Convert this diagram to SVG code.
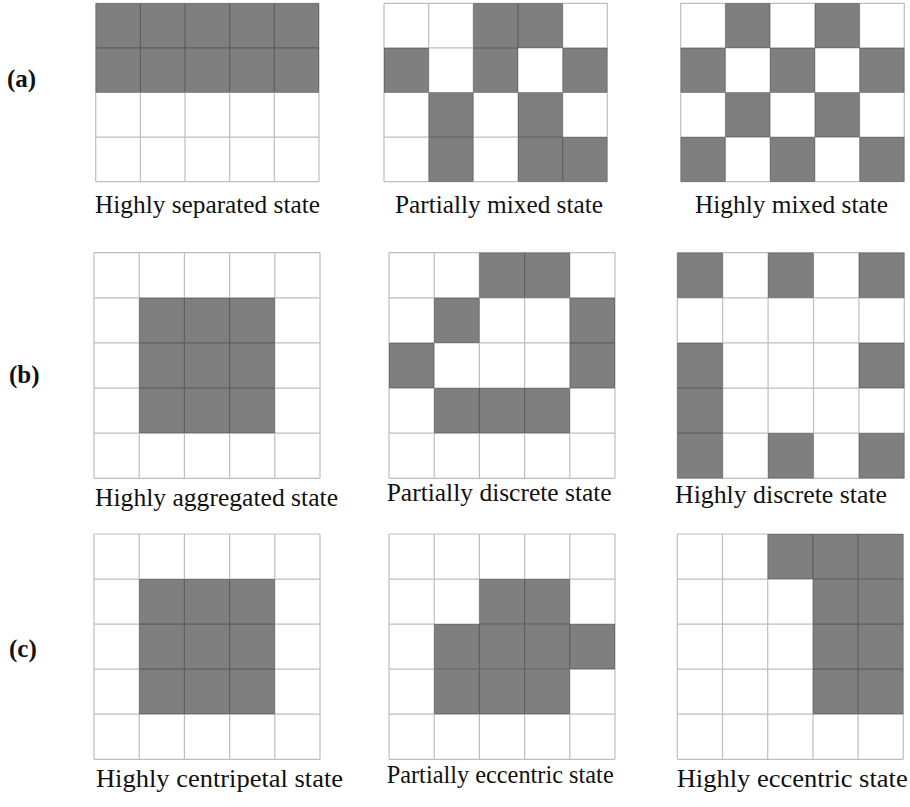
<svg xmlns="http://www.w3.org/2000/svg" width="910" height="807" viewBox="0 0 910 807">
<style>
.bg{fill:#ffffff}
.g{fill:#7f7f7f}
.grid{fill:none;stroke:#000000;stroke-opacity:0.26;stroke-width:1.2}
.cap{font-family:"Liberation Serif","Times New Roman",serif;font-size:25px;fill:#111111;text-anchor:start}
.lab{font-family:"Liberation Serif","Times New Roman",serif;font-size:25px;font-weight:bold;fill:#111111}
</style>
<rect class="bg" x="0" y="0" width="910" height="807"/>

<text class="lab" x="7" y="87">(a)</text>
<text class="lab" x="9" y="383">(b)</text>
<text class="lab" x="9" y="657">(c)</text>

<g id="a1">
<rect class="g" x="95.7" y="3.3" width="223.3" height="89.2"/>
<path class="grid" d="M95.7 3.3H319M95.7 47.9H319M95.7 92.5H319M95.7 137.1H319M95.7 181.7H319M95.7 3.3V181.7M140.4 3.3V181.7M185 3.3V181.7M229.7 3.3V181.7M274.3 3.3V181.7M319 3.3V181.7"/>
<text class="cap" x="95" y="213" textLength="225" lengthAdjust="spacingAndGlyphs">Highly separated state</text>
</g>

<g id="a2">
<rect class="g" x="473.3" y="3.3" width="89.4" height="44.6"/>
<rect class="g" x="384" y="47.9" width="44.7" height="44.6"/>
<rect class="g" x="473.3" y="47.9" width="44.7" height="44.6"/>
<rect class="g" x="562.7" y="47.9" width="44.6" height="44.6"/>
<rect class="g" x="428.7" y="92.5" width="44.6" height="44.6"/>
<rect class="g" x="518" y="92.5" width="44.7" height="44.6"/>
<rect class="g" x="428.7" y="137.1" width="44.6" height="44.6"/>
<rect class="g" x="518" y="137.1" width="89.3" height="44.6"/>
<path class="grid" d="M384 3.3H607.3M384 47.9H607.3M384 92.5H607.3M384 137.1H607.3M384 181.7H607.3M384 3.3V181.7M428.7 3.3V181.7M473.3 3.3V181.7M518 3.3V181.7M562.7 3.3V181.7M607.3 3.3V181.7"/>
<text class="cap" x="395" y="213" textLength="208" lengthAdjust="spacingAndGlyphs">Partially mixed state</text>
</g>

<g id="a3">
<rect class="g" x="725.4" y="3.3" width="44.7" height="44.6"/>
<rect class="g" x="814.9" y="3.3" width="44.7" height="44.6"/>
<rect class="g" x="680.7" y="47.9" width="44.7" height="44.6"/>
<rect class="g" x="770.1" y="47.9" width="44.8" height="44.6"/>
<rect class="g" x="859.6" y="47.9" width="44.7" height="44.6"/>
<rect class="g" x="725.4" y="92.5" width="44.7" height="44.6"/>
<rect class="g" x="814.9" y="92.5" width="44.7" height="44.6"/>
<rect class="g" x="680.7" y="137.1" width="44.7" height="44.6"/>
<rect class="g" x="770.1" y="137.1" width="44.8" height="44.6"/>
<rect class="g" x="859.6" y="137.1" width="44.7" height="44.6"/>
<path class="grid" d="M680.7 3.3H904.3M680.7 47.9H904.3M680.7 92.5H904.3M680.7 137.1H904.3M680.7 181.7H904.3M680.7 3.3V181.7M725.4 3.3V181.7M770.1 3.3V181.7M814.9 3.3V181.7M859.6 3.3V181.7M904.3 3.3V181.7"/>
<text class="cap" x="695" y="213" textLength="193" lengthAdjust="spacingAndGlyphs">Highly mixed state</text>
</g>

<g id="b1">
<rect class="g" x="139.2" y="297.8" width="135.6" height="135.4"/>
<path class="grid" d="M94 252.7H320M94 297.8H320M94 342.9H320M94 388.1H320M94 433.2H320M94 478.3H320M94 252.7V478.3M139.2 252.7V478.3M184.4 252.7V478.3M229.6 252.7V478.3M274.8 252.7V478.3M320 252.7V478.3"/>
<text class="cap" x="95" y="506" textLength="243" lengthAdjust="spacingAndGlyphs">Highly aggregated state</text>
</g>

<g id="b2">
<rect class="g" x="479.4" y="252.7" width="90.4" height="45.1"/>
<rect class="g" x="434.2" y="297.8" width="45.2" height="45.1"/>
<rect class="g" x="569.8" y="297.8" width="45.2" height="90.3"/>
<rect class="g" x="389" y="342.9" width="45.2" height="45.2"/>
<rect class="g" x="434.2" y="388.1" width="135.6" height="45.1"/>
<path class="grid" d="M389 252.7H615M389 297.8H615M389 342.9H615M389 388.1H615M389 433.2H615M389 478.3H615M389 252.7V478.3M434.2 252.7V478.3M479.4 252.7V478.3M524.6 252.7V478.3M569.8 252.7V478.3M615 252.7V478.3"/>
<text class="cap" x="386.7" y="501" textLength="225" lengthAdjust="spacingAndGlyphs">Partially discrete state</text>
</g>

<g id="b3">
<rect class="g" x="677.3" y="252.7" width="45.4" height="45.1"/>
<rect class="g" x="768.1" y="252.7" width="45.4" height="45.1"/>
<rect class="g" x="858.9" y="252.7" width="45.4" height="45.1"/>
<rect class="g" x="677.3" y="342.9" width="45.4" height="135.4"/>
<rect class="g" x="858.9" y="342.9" width="45.4" height="45.2"/>
<rect class="g" x="768.1" y="433.2" width="45.4" height="45.1"/>
<rect class="g" x="858.9" y="433.2" width="45.4" height="45.1"/>
<path class="grid" d="M677.3 252.7H904.3M677.3 297.8H904.3M677.3 342.9H904.3M677.3 388.1H904.3M677.3 433.2H904.3M677.3 478.3H904.3M677.3 252.7V478.3M722.7 252.7V478.3M768.1 252.7V478.3M813.5 252.7V478.3M858.9 252.7V478.3M904.3 252.7V478.3"/>
<text class="cap" x="675" y="503" textLength="212" lengthAdjust="spacingAndGlyphs">Highly discrete state</text>
</g>

<g id="c1">
<rect class="g" x="139.2" y="579.1" width="135.6" height="135.1"/>
<path class="grid" d="M94 534H320M94 579.1H320M94 624.1H320M94 669.2H320M94 714.2H320M94 759.3H320M94 534V759.3M139.2 534V759.3M184.4 534V759.3M229.6 534V759.3M274.8 534V759.3M320 534V759.3"/>
<text class="cap" x="96" y="787" textLength="247" lengthAdjust="spacingAndGlyphs">Highly centripetal state</text>
</g>

<g id="c2">
<rect class="g" x="479.4" y="579.1" width="90.4" height="45"/>
<rect class="g" x="434.2" y="624.1" width="180.8" height="45.1"/>
<rect class="g" x="434.2" y="669.2" width="135.6" height="45"/>
<path class="grid" d="M389 534H615M389 579.1H615M389 624.1H615M389 669.2H615M389 714.2H615M389 759.3H615M389 534V759.3M434.2 534V759.3M479.4 534V759.3M524.6 534V759.3M569.8 534V759.3M615 534V759.3"/>
<text class="cap" x="386.7" y="783" textLength="227" lengthAdjust="spacingAndGlyphs">Partially eccentric state</text>
</g>

<g id="c3">
<rect class="g" x="767.7" y="534" width="135.6" height="45.1"/>
<rect class="g" x="812.9" y="579.1" width="90.4" height="135.1"/>
<path class="grid" d="M677.3 534H903.3M677.3 579.1H903.3M677.3 624.1H903.3M677.3 669.2H903.3M677.3 714.2H903.3M677.3 759.3H903.3M677.3 534V759.3M722.5 534V759.3M767.7 534V759.3M812.9 534V759.3M858.1 534V759.3M903.3 534V759.3"/>
<text class="cap" x="676.7" y="787" textLength="231" lengthAdjust="spacingAndGlyphs">Highly eccentric state</text>
</g>
</svg>
